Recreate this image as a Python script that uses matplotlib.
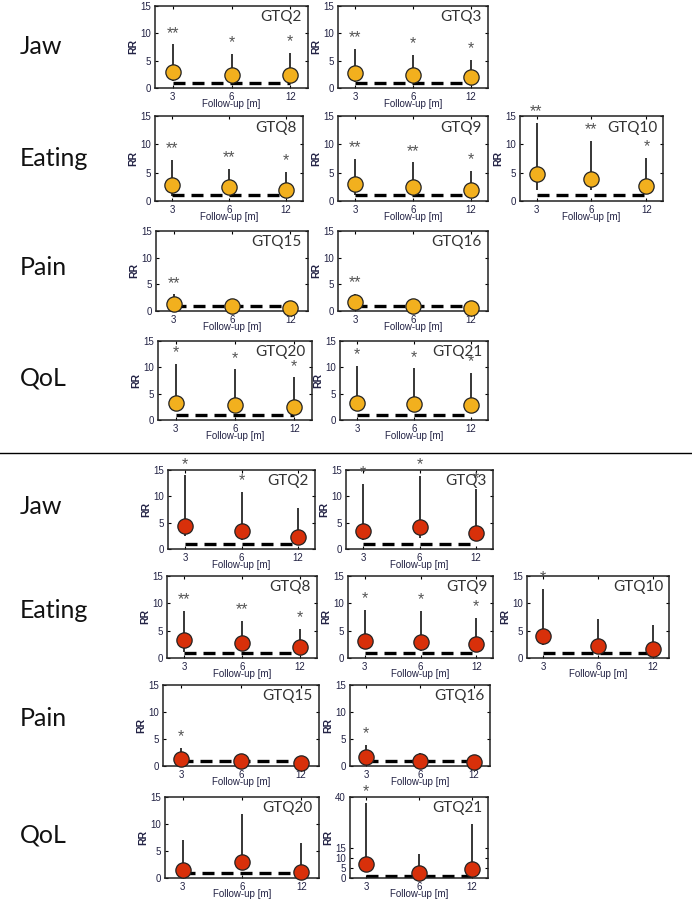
import numpy as np
import matplotlib.pyplot as plt
from matplotlib.lines import Line2D

# follow-up months (x categories)
followup = ["3", "6", "12"]
row_labels = ["Jaw", "Eating", "Pain", "QoL"]

names = ["GTQ2", "GTQ3", "GTQ8", "GTQ9", "GTQ10", "GTQ15", "GTQ16", "GTQ20", "GTQ21"]

# upper half (yellow)
top_rr = [[3.0, 2.3, 2.3], [2.7, 2.4, 2.0], [2.9, 2.5, 2.0], [3.0, 2.5, 1.9],
          [4.8, 3.8, 2.7], [1.4, 0.9, 0.6], [1.6, 0.9, 0.6], [3.3, 2.8, 2.4],
          [3.3, 3.0, 2.8]]
top_lo = [[1.2, 1.1, 1.1], [1.1, 1.0, 1.0], [0.9, 1.1, 0.8], [1.0, 1.1, 0.9],
          [2.0, 1.9, 1.3], [0.8, 0.5, 0.3], [0.9, 0.5, 0.3], [1.9, 1.6, 1.5],
          [1.8, 1.7, 1.5]]
top_hi = [[8.0, 6.2, 6.4], [7.2, 6.0, 5.2], [7.2, 5.7, 5.1], [7.5, 6.8, 5.3],
          [13.8, 10.6, 7.6], [3.1, 2.2, 1.2], [3.2, 2.3, 1.0], [10.7, 9.6, 8.1],
          [10.3, 9.8, 9.0]]
top_stars = [["**", "*", "*"], ["**", "*", "*"], ["**", "**", "*"], ["**", "**", "*"],
             ["**", "**", "*"], ["**", "", ""], ["**", "", ""], ["*", "*", "*"],
             ["*", "*", "*"]]

# lower half (red)
bot_rr = [[4.4, 3.5, 2.2], [3.5, 4.1, 3.1], [3.3, 2.8, 2.1], [3.2, 3.0, 2.5],
          [4.0, 2.2, 1.7], [1.3, 1.0, 0.6], [1.6, 1.0, 0.8], [1.5, 3.0, 1.2],
          [6.7, 2.5, 4.2]]
bot_lo = [[2.4, 1.8, 1.2], [1.8, 2.0, 1.6], [1.1, 1.2, 1.0], [1.6, 1.3, 1.2],
          [2.3, 1.2, 0.8], [0.8, 0.6, 0.3], [0.9, 0.6, 0.4], [0.8, 1.6, 0.5],
          [3.0, 0.8, 1.5]]
bot_hi = [[14.0, 10.9, 7.8], [12.3, 13.9, 11.3], [8.6, 6.8, 5.3], [8.8, 8.6, 7.3],
          [12.7, 7.2, 6.1], [3.4, 2.0, 1.0], [3.9, 2.5, 1.6], [7.1, 11.9, 6.4],
          [37.0, 12.0, 26.7]]
bot_stars = [["*", "*", ""], ["*", "*", "*"], ["**", "**", "*"], ["*", "*", "*"],
             ["*", "", ""], ["*", "", ""], ["*", "", ""], ["", "", ""],
             ["*", "", ""]]

# axes boxes in pixels (left, top, right, bottom)
top_boxes = [(155, 6, 308, 88), (338, 6, 488, 88),
             (155, 116, 303, 201), (338, 116, 488, 201), (520, 116, 663, 201),
             (156, 231, 308, 311), (338, 231, 488, 311),
             (158, 341, 312, 420), (340, 341, 488, 420)]
bot_boxes = [(168, 470, 315, 549), (346, 470, 493, 549),
             (167, 576, 317, 658), (348, 576, 493, 658), (527, 576, 669, 658),
             (163, 685, 319, 766), (350, 685, 490, 766),
             (165, 797, 319, 878), (350, 797, 488, 878)]
top_label_y = [47, 158, 268, 378]
bot_label_y = [507, 610, 718, 835]

W, H = 692, 900
fig = plt.figure(figsize=(W / 100, H / 100), dpi=100)
fig.patch.set_facecolor("white")


def rect(b):
    l, t, r, bt = b
    return [l / W, 1 - bt / H, (r - l) / W, (bt - t) / H]


def panel(b, name, rr, lo, hi, stars, color, ymax=15, yticks=(0, 5, 10, 15)):
    ax = fig.add_axes(rect(b))
    x = np.arange(1, 4)
    ax.plot([1, 3], [1, 1], color="black", lw=2.4, dashes=(3.6, 2.1), zorder=1)
    ax.vlines(x, lo, hi, color="black", lw=1.1, zorder=2)
    ax.plot(x, rr, "o", ms=11, mfc=color, mec="#222222", mew=0.9, zorder=3,
            clip_on=False)
    for xi, h, s in zip(x, hi, stars):
        if s:
            ax.annotate(s, (xi, h), xytext=(0, 8), textcoords="offset points",
                        ha="center", va="center", fontsize=11.5, color="#555555",
                        family="Liberation Sans", annotation_clip=False)
    ax.set_xlim(0.7, 3.3)
    ax.set_ylim(0, ymax)
    ax.set_xticks(x)
    ax.set_xticklabels(followup)
    ax.set_yticks(yticks)
    ax.tick_params(direction="in", length=2.5, width=0.8, labelsize=7,
                   top=True, right=True, pad=3, labelcolor="#222244")
    for t in ax.get_xticklabels() + ax.get_yticklabels():
        t.set_family("Liberation Sans")
    for sp in ax.spines.values():
        sp.set_linewidth(1.1)
        sp.set_color("#222222")
    ax.set_ylabel("RR", fontsize=7.5, family="Liberation Sans", labelpad=1,
                  color="#222244", fontweight="bold")
    ax.set_xlabel("Follow-up [m]", fontsize=7, family="Liberation Sans",
                  labelpad=-2, color="#222244")
    ax.text(0.96, 0.86, name, transform=ax.transAxes, ha="right", va="center",
            fontsize=11, family="Lato", color="#333333")
    return ax


for i, name in enumerate(names):
    panel(top_boxes[i], name, top_rr[i], top_lo[i], top_hi[i], top_stars[i], "#F2B01E")
    if name == "GTQ21":
        panel(bot_boxes[i], name, bot_rr[i], bot_lo[i], bot_hi[i], bot_stars[i],
              "#D8300A", ymax=40, yticks=(0, 5, 10, 15, 40))
    else:
        panel(bot_boxes[i], name, bot_rr[i], bot_lo[i], bot_hi[i], bot_stars[i], "#D8300A")

for lab, y in zip(row_labels, top_label_y):
    fig.text(20 / W, 1 - y / H, lab, fontsize=18, family="Lato", va="center",
             ha="left", color="#111111")
for lab, y in zip(row_labels, bot_label_y):
    fig.text(20 / W, 1 - y / H, lab, fontsize=18, family="Lato", va="center",
             ha="left", color="#111111")

fig.add_artist(Line2D([0, 1], [1 - 453 / H, 1 - 453 / H], color="black", lw=1,
                      transform=fig.transFigure))

fig.savefig("out.png", dpi=100)
